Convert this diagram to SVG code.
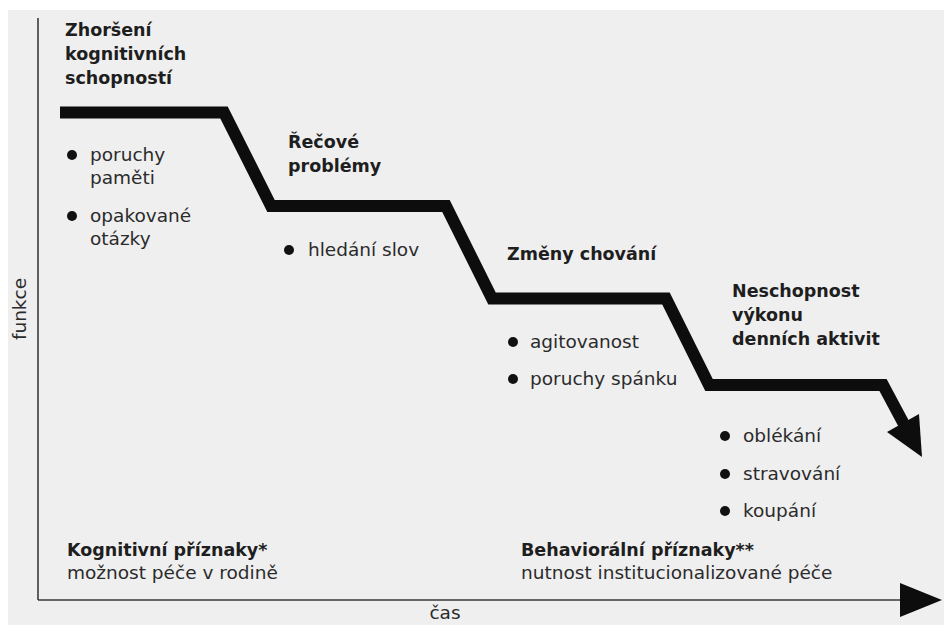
<svg xmlns="http://www.w3.org/2000/svg" width="944" height="625" viewBox="0 0 944 625">
  <style>
    text { font-family: "DejaVu Sans", "Liberation Sans", sans-serif; fill: #2b2b2b; }
    .h { font-weight: bold; font-size: 17.5px; fill: #1e1e1e; }
    .t { font-size: 18.5px; }
    .dot { fill: #111; }
    .axis { stroke: #3a3a3a; stroke-width: 1.6; fill: none; }
    .step { stroke: #0d0d0d; stroke-width: 12; fill: none; stroke-linejoin: miter; stroke-linecap: butt; }
  </style>
  <defs>
    <marker id="axhead" markerUnits="userSpaceOnUse" markerWidth="42" markerHeight="36" refX="0" refY="17" orient="auto">
      <polygon points="0,0 42,17 0,34" fill="#0d0d0d"/>
    </marker>
  </defs>

  <rect x="0" y="0" width="944" height="625" fill="#ffffff"/>
  <rect x="8" y="10" width="936" height="615" fill="#efefef"/>

  <g id="axes">
    <line class="axis" x1="38" y1="18" x2="38" y2="600"/>
    <line class="axis" x1="38" y1="600" x2="900" y2="600" marker-end="url(#axhead)"/>
    <text id="label-funkce" class="t" transform="translate(26,309) rotate(-90)" text-anchor="middle">funkce</text>
    <text id="label-cas" class="t" x="445" y="619" text-anchor="middle">čas</text>
  </g>

  <g id="connectors">
    <polyline class="step" points="60,112.5 224,112.5 271,206 446,206 492,298.5 666,298.5 709,385 883,385 906,428"/>
    <polygon points="887,432 919,414 922,457" fill="#0d0d0d"/>
  </g>

  <g id="stage-kognitivni">
    <text class="h" x="65" y="36">Zhoršení</text>
    <text class="h" x="65" y="60">kognitivních</text>
    <text class="h" x="65" y="84">schopností</text>
    <circle class="dot" cx="72" cy="155" r="5"/>
    <text class="t" x="90" y="161">poruchy</text>
    <text class="t" x="90" y="184">paměti</text>
    <circle class="dot" cx="72" cy="216" r="5"/>
    <text class="t" x="90" y="222">opakované</text>
    <text class="t" x="90" y="245">otázky</text>
  </g>

  <g id="stage-recove">
    <text class="h" x="288" y="148">Řečové</text>
    <text class="h" x="288" y="172">problémy</text>
    <circle class="dot" cx="289" cy="250" r="5"/>
    <text class="t" x="308" y="256">hledání slov</text>
  </g>

  <g id="stage-chovani">
    <text class="h" x="507" y="260">Změny chování</text>
    <circle class="dot" cx="513" cy="342" r="5"/>
    <text class="t" x="530" y="348">agitovanost</text>
    <circle class="dot" cx="513" cy="379" r="5"/>
    <text class="t" x="530" y="385">poruchy spánku</text>
  </g>

  <g id="stage-aktivity">
    <text class="h" x="732" y="297">Neschopnost</text>
    <text class="h" x="732" y="321">výkonu</text>
    <text class="h" x="732" y="345">denních aktivit</text>
    <circle class="dot" cx="725" cy="436" r="5"/>
    <text class="t" x="743" y="442">oblékání</text>
    <circle class="dot" cx="725" cy="474" r="5"/>
    <text class="t" x="743" y="480">stravování</text>
    <circle class="dot" cx="725" cy="511" r="5"/>
    <text class="t" x="743" y="517">koupání</text>
  </g>

  <g id="phase-kognitivni">
    <text class="h" x="67" y="556">Kognitivní příznaky*</text>
    <text class="t" x="67" y="579">možnost péče v rodině</text>
  </g>

  <g id="phase-behavioralni">
    <text class="h" x="521" y="556">Behaviorální příznaky**</text>
    <text class="t" x="521" y="579">nutnost institucionalizované péče</text>
  </g>
</svg>
